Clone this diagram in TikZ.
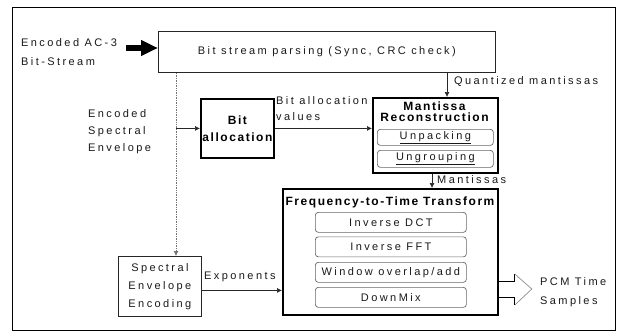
\documentclass[tikz,border=0pt]{standalone}
\usepackage{fontspec}
\setmainfont{Liberation Sans}[LetterSpace=22]
\newfontfamily\titlefont{Liberation Sans}[LetterSpace=13]
\usetikzlibrary{arrows.meta}
\begin{document}
\begin{tikzpicture}[x=1pt,y=-1pt,
  every node/.style={font=\fontsize{11}{13}\selectfont, inner sep=0pt, text=black!90},
  plain/.style={draw=black!85, line width=0.8pt},
  heavy/.style={draw=black, line width=1.8pt},
  sub/.style={draw=black!60, line width=0.7pt, rounded corners=3pt},
  conn/.style={draw=black!85, line width=0.7pt, -{Latex[length=5pt,width=5pt]}},
  trunk/.style={draw=black!55, line width=0.7pt, densely dotted, -{Latex[length=5pt,width=5pt]}},
  fat/.style={draw=black, line width=5.5pt, -{Triangle[length=17pt,width=15pt]}},
  shaft/.style={draw=black, line width=0.9pt},
  headline/.style={draw=black!45, line width=0.7pt},
  boldtxt/.style={font=\titlefont\fontsize{12}{#1}\selectfont\bfseries, align=center, text=black},
  boldtxt/.default=13
]
\useasboundingbox (0,0) rectangle (620,332);

% outer frame
\draw[line width=1pt] (12,7) rectangle (615,330);

% main blocks
\node[plain, minimum width=337pt, minimum height=41pt, anchor=north west] (parse) at (158,31)
  {Bit stream parsing (Sync, CRC check)};
\node[heavy, minimum width=73pt, minimum height=59pt, anchor=north west, boldtxt=17] (balloc) at (200,98)
  {Bit\\allocation};
\node[heavy, minimum width=125pt, minimum height=75pt, anchor=north west] (mant) at (372,97) {};
\node[boldtxt=11.5] (manttitle) at (434.5,111.5) {Mantissa\\Reconstruction};
\node[sub, minimum width=116pt, minimum height=16pt, anchor=north west] (unpack) at (377,129)
  {\underline{Unpacking}};
\node[sub, minimum width=116pt, minimum height=17pt, anchor=north west] (ungroup) at (377,150)
  {\underline{Ungrouping}};

\node[heavy, minimum width=215pt, minimum height=126pt, anchor=north west] (freq) at (282,188) {};
\node[boldtxt] (freqtitle) at (390,202) {Frequency-to-Time Transform};
\node[sub, minimum width=151pt, minimum height=20pt, anchor=north west] (idct) at (315,212) {Inverse DCT};
\node[sub, minimum width=151pt, minimum height=20pt, anchor=north west] (ifft) at (315,236.5) {Inverse FFT};
\node[sub, minimum width=151pt, minimum height=20pt, anchor=north west] (wola) at (315,262) {Window overlap/add};
\node[sub, minimum width=151pt, minimum height=20pt, anchor=north west] (dmix) at (315,287) {DownMix};

\node[plain, minimum width=83pt, minimum height=60pt, anchor=north west, align=center,
      font=\fontsize{11}{18}\selectfont] (spec) at (118,256) {Spectral\\Envelope\\Encoding};

% free labels
\node[anchor=west, align=left, font=\fontsize{11}{19}\selectfont] (aclbl) at (21,52) {Encoded AC-3\\Bit-Stream};
\node[anchor=west, align=left, font=\fontsize{11}{17}\selectfont] (envlbl) at (88,132) {Encoded\\Spectral\\Envelope};
\node[anchor=west, align=left, font=\fontsize{11}{16}\selectfont] (bavlbl) at (276,109) {Bit allocation\\values};
\node[anchor=west] (qmlbl) at (454,82) {Quantized mantissas};
\node[anchor=west] (mlbl) at (437,180) {Mantissas};
\node[anchor=west] (explbl) at (204,277) {Exponents};
\node[anchor=west, align=left, font=\fontsize{11}{19}\selectfont] (pcmlbl) at (540,292.5) {PCM Time\\Samples};

% connectors
\coordinate (acstart) at (126,48);
\draw[fat] (acstart) -- (acstart -| parse.west);

\coordinate (tk) at (176,0);
\draw[trunk] (tk |- parse.south) -- (tk |- spec.north);
\draw[conn] (tk |- balloc.west) -- (balloc.west);

\coordinate (qx) at (447,0);
\draw[conn] (qx |- parse.south) -- (qx |- mant.north);
\draw[conn] (balloc.east) -- (balloc.east -| mant.west);

\coordinate (mx) at (432,0);
\draw[conn] (mx |- mant.south) -- (mx |- freq.north);

\draw[conn] ([yshift=-4pt]spec.east) -- ([yshift=-4pt]spec.east -| freq.west);

% hollow output arrow
\coordinate (pcmy) at (0,289);
\begin{scope}[shift={(freq.east |- pcmy)}]
  \draw[shaft] (0,-8) -- (16,-8) -- (16,-15);
  \draw[headline] (16,-15) -- (33,0) -- (16,16);
  \draw[shaft] (16,16) -- (16,8) -- (0,8);
\end{scope}
\end{tikzpicture}
\end{document}
